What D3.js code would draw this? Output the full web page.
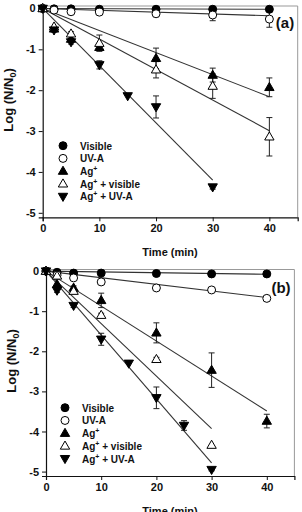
<!DOCTYPE html>
<html>
<head>
<meta charset="utf-8">
<script src="https://d3js.org/d3.v7.min.js"></script>
<style>
  body { margin: 0; background: #fff; }
  text { font-family: "Liberation Sans", Arial, sans-serif; font-weight: bold; fill: #111; }
</style>
</head>
<body>
<div id="chart"></div>
<script>
// legend names (same in both panels)
var seriesNames = ["Visible", "UV-A", "Ag+", "Ag+ + visible", "Ag+ + UV-A"];
var xTicks = [0, 10, 20, 30, 40];
var yTicks = [0, -1, -2, -3, -4, -5];

// panel (a)
var timeA = [0, 2, 5, 10, 20, 30, 40];
var visibleA = [0, -0.01, -0.01, -0.02, -0.02, -0.02, -0.02];
var visibleErrA = [0, 0, 0, 0, 0, 0, 0];
var uvaA = [0, -0.04, -0.08, -0.09, -0.13, -0.16, -0.26];
var uvaErrA = [0, 0, 0.03, 0.04, 0.07, 0.14, 0.2];
var agA = [0, -0.5, -0.75, -0.95, -1.22, -1.63, -1.93];
var agErrA = [0, 0, 0, 0, 0.25, 0.17, 0.23];
var agVisA = [0, -0.45, -0.62, -0.85, -1.5, -1.9, -3.14];
var agVisErrA = [0, 0, 0.05, 0.2, 0.2, 0.3, 0.47];
var timeUvA = [0, 2, 5, 10, 15, 20, 30];
var agUvaA = [0, -0.53, -0.82, -1.38, -2.14, -2.41, -4.37];
var agUvaErrA = [0, 0.05, 0.05, 0.1, 0, 0.27, 0.05];
// fitted lines: end time and end value (start at 0,0)
var fitEndTA = [40, 40, 40, 40, 30];
var fitEndYA = [-0.02, -0.18, -2.16, -2.99, -4.2];

// panel (b)
var timeB = [0, 2, 5, 10, 20, 30, 40];
var visibleB = [0, -0.03, -0.05, -0.05, -0.06, -0.07, -0.07];
var visibleErrB = [0, 0, 0, 0, 0, 0, 0];
var uvaB = [0, -0.1, -0.17, -0.27, -0.42, -0.47, -0.68];
var uvaErrB = [0, 0, 0, 0, 0, 0, 0];
var agB = [0, -0.33, -0.42, -0.73, -1.54, -2.47, -3.74];
var agErrB = [0, 0, 0.05, 0.18, 0.25, 0.43, 0.17];
var timeVisB = [0, 2, 5, 10, 20, 30];
var agVisB = [0, -0.12, -0.5, -1.1, -2.2, -4.34];
var agVisErrB = [0, 0, 0.05, 0.05, 0.05, 0];
var timeUvB = [0, 2, 5, 10, 15, 20, 25, 30];
var agUvaB = [0, -0.48, -0.86, -1.7, -2.3, -3.16, -3.85, -4.95];
var agUvaErrB = [0, 0.05, 0.05, 0.15, 0, 0.27, 0.12, 0.03];
var fitEndTB = [40, 40, 40, 30, 30];
var fitEndYB = [-0.08, -0.66, -3.49, -3.93, -4.78];

var markers = ["circleFill", "circleOpen", "triUpFill", "triUpOpen", "triDownFill"];

function pack(t, v, e) {
  return t.map(function(d, i) { return {t: d, v: v[i], e: e[i]}; });
}

var panels = [
  {
    label: "(a)",
    xr: [42.7, 297.7], yr: [217.3, 6], yd: [-5.11, 0.06],
    series: [pack(timeA, visibleA, visibleErrA), pack(timeA, uvaA, uvaErrA),
             pack(timeA, agA, agErrA), pack(timeA, agVisA, agVisErrA),
             pack(timeUvA, agUvaA, agUvaErrA)],
    fitT: fitEndTA, fitY: fitEndYA,
    legend: {x: 63, y: 145.7, dy: 12.7},
    tag: {x: 285, y: 28},
    ylab: {x: 13, y: 100}
  },
  {
    label: "(b)",
    xr: [46, 294.4], yr: [476, 269.5], yd: [-5.11, 0.04],
    series: [pack(timeB, visibleB, visibleErrB), pack(timeB, uvaB, uvaErrB),
             pack(timeB, agB, agErrB), pack(timeVisB, agVisB, agVisErrB),
             pack(timeUvB, agUvaB, agUvaErrB)],
    fitT: fitEndTB, fitY: fitEndYB,
    legend: {x: 65, y: 407.7, dy: 12.75},
    tag: {x: 281, y: 293},
    ylab: {x: 16, y: 361}
  }
];

var svg = d3.select("#chart").append("svg")
  .attr("width", 302)
  .attr("height", 512);

function drawMarker(g, type, x, y) {
  if (type.indexOf("circle") === 0) {
    g.append("circle")
      .attr("cx", x).attr("cy", y).attr("r", 4)
      .attr("fill", type === "circleFill" ? "#000" : "#fff")
      .attr("stroke", "#000").attr("stroke-width", 1);
  } else {
    var rot = type === "triDownFill" ? 180 : 0;
    g.append("path")
      .attr("d", d3.symbol().type(d3.symbolTriangle).size(38)())
      .attr("transform", "translate(" + x + "," + (y + (rot ? -0.5 : 0.5)) + ") rotate(" + rot + ")")
      .attr("fill", type === "triUpOpen" ? "#fff" : "#000")
      .attr("stroke", "#000").attr("stroke-width", 1);
  }
}

panels.forEach(function(p) {
  var x = d3.scaleLinear().domain([0, 45]).range(p.xr);
  var y = d3.scaleLinear().domain(p.yd).range(p.yr);
  var g = svg.append("g");

  // frame
  g.append("line").attr("x1", p.xr[0]).attr("x2", p.xr[1]).attr("y1", p.yr[1]).attr("y2", p.yr[1])
    .attr("stroke", "#999").attr("stroke-width", 1);
  g.append("line").attr("x1", p.xr[1]).attr("x2", p.xr[1]).attr("y1", p.yr[0]).attr("y2", p.yr[1])
    .attr("stroke", "#999").attr("stroke-width", 1);

  var xAxis = g.append("g")
    .attr("transform", "translate(0," + p.yr[0] + ")")
    .call(d3.axisBottom(x).tickValues(xTicks).tickSize(4).tickPadding(3).tickFormat(d3.format("d")));
  var yAxis = g.append("g")
    .attr("transform", "translate(" + p.xr[0] + ",0)")
    .call(d3.axisLeft(y).tickValues(yTicks).tickSize(4).tickPadding(3).tickFormat(function(d) { return d === 0 ? "0" : "-" + Math.abs(d); }));
  [xAxis, yAxis].forEach(function(a) {
    a.select(".domain").attr("stroke", "#111").attr("stroke-width", 1.2);
    a.selectAll(".tick line").attr("stroke", "#111");
    a.selectAll("text").style("font-size", "11px").style("font-weight", "bold")
      .style("font-family", "'Liberation Sans', Arial, sans-serif").attr("fill", "#111");
  });

  // axis titles
  g.append("text")
    .attr("x", 170).attr("y", p.yr[0] + 39)
    .attr("text-anchor", "middle").style("font-size", "11px")
    .text("Time (min)");
  var yl = g.append("text")
    .attr("transform", "translate(" + p.ylab.x + "," + p.ylab.y + ") rotate(-90)")
    .attr("text-anchor", "middle").style("font-size", "13px");
  yl.append("tspan").text("Log (N/N");
  yl.append("tspan").attr("dy", 3).style("font-size", "9px").text("0");
  yl.append("tspan").attr("dy", -3).text(")");

  // fitted lines
  p.fitT.forEach(function(t, i) {
    g.append("line")
      .attr("x1", x(0)).attr("y1", y(0))
      .attr("x2", x(t)).attr("y2", y(p.fitY[i]))
      .attr("stroke", "#333").attr("stroke-width", 1.1);
  });

  // error bars then markers
  p.series.forEach(function(s, i) {
    s.forEach(function(d) {
      if (d.e > 0) {
        var y0 = y(d.v + d.e), y1 = y(d.v - d.e);
        g.append("line").attr("x1", x(d.t)).attr("x2", x(d.t)).attr("y1", y0).attr("y2", y1)
          .attr("stroke", "#222").attr("stroke-width", 1);
        [y0, y1].forEach(function(yy) {
          g.append("line").attr("x1", x(d.t) - 3).attr("x2", x(d.t) + 3).attr("y1", yy).attr("y2", yy)
            .attr("stroke", "#222").attr("stroke-width", 1);
        });
      }
    });
  });
  p.series.forEach(function(s, i) {
    s.forEach(function(d) {
      drawMarker(g, markers[i], x(d.t), y(d.v));
    });
  });

  // legend
  seriesNames.forEach(function(name, i) {
    var ly = p.legend.y + i * p.legend.dy;
    drawMarker(g, markers[i], p.legend.x, ly);
    var t = g.append("text")
      .attr("x", p.legend.x + 17).attr("y", ly + 3.8)
      .style("font-size", "10px");
    if (name.indexOf("Ag+") === 0) {
      t.append("tspan").text("Ag");
      t.append("tspan").attr("dy", -4).style("font-size", "7px").text("+");
      t.append("tspan").attr("dy", 4).text(name.slice(3));
    } else {
      t.text(name);
    }
  });

  g.append("text")
    .attr("x", p.tag.x).attr("y", p.tag.y)
    .attr("text-anchor", "middle").style("font-size", "15px")
    .text(p.label);
});
</script>
</body>
</html>
